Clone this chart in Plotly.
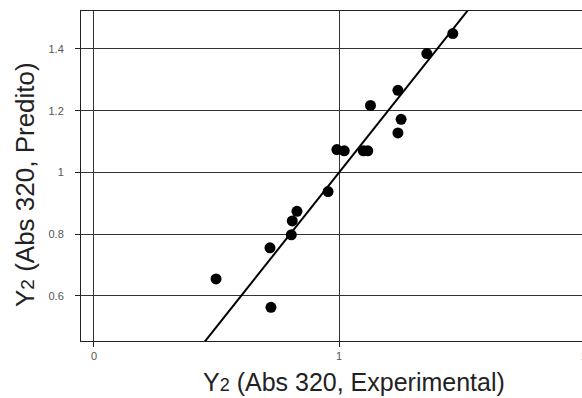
import plotly.graph_objects as go

# Data
x_exp = [0.498, 0.722, 0.718, 0.805, 0.809, 0.828, 0.955, 0.991, 1.021, 1.099, 1.117,
         1.128, 1.240, 1.253, 1.240, 1.358, 1.464]
y_pred = [0.655, 0.563, 0.756, 0.798, 0.843, 0.874, 0.938, 1.074, 1.070, 1.070, 1.070,
          1.217, 1.128, 1.172, 1.266, 1.385, 1.450]
fit_x = [0.3, 1.7]
fit_y = [0.3, 1.7]

x_ticks = [0, 1, 2]
x_ticklabels = ["0", "1", "2"]
y_ticks = [0.6, 0.8, 1.0, 1.2, 1.4]
y_ticklabels = ["0.6", "0.8", "1", "1.2", "1.4"]

x_title = "Y<span style='font-size:18px'>2</span> (Abs 320, Experimental)"
y_title = "Y<span style='font-size:19px'>2</span> (Abs 320, Predito)"

FONT = "Liberation Sans, Arial, sans-serif"

fig = go.Figure()
fig.add_trace(go.Scatter(x=fit_x, y=fit_y, mode="lines",
                         line=dict(color="black", width=2), showlegend=False,
                         hoverinfo="skip"))
fig.add_trace(go.Scatter(x=x_exp, y=y_pred, mode="markers",
                         marker=dict(color="black", size=11), showlegend=False))

axis_common = dict(showline=True, linecolor="#222", linewidth=1, mirror=True,
                   showgrid=True, gridcolor="#333", gridwidth=1, zeroline=False,
                   ticks="outside", ticklen=5, tickcolor="#222",
                   tickfont=dict(family=FONT, size=11, color="#555"))

fig.update_xaxes(range=[-0.053, 2.04], tickvals=x_ticks, ticktext=x_ticklabels,
                 **axis_common)
fig.update_yaxes(range=[0.454, 1.523], tickvals=y_ticks, ticktext=y_ticklabels,
                 ticklabelstandoff=9, **axis_common)

fig.add_annotation(text=x_title, xref="x", yref="paper", x=1.06, y=0,
                   xanchor="center", yanchor="middle", yshift=-41,
                   showarrow=False, font=dict(family=FONT, size=25, color="#222"))
fig.add_annotation(text=y_title, xref="paper", yref="paper", x=0, y=0.5,
                   xanchor="center", yanchor="middle", xshift=-56, yshift=-9,
                   textangle=-90, showarrow=False,
                   font=dict(family=FONT, size=26, color="#222"))

fig.update_layout(width=600, height=398, margin=dict(l=81, r=6, t=11, b=57),
                  paper_bgcolor="white", plot_bgcolor="white",
                  font=dict(family=FONT))

fig.write_html("out.html",
               post_script="document.body.style.overflow='hidden';document.body.style.margin='0';")
